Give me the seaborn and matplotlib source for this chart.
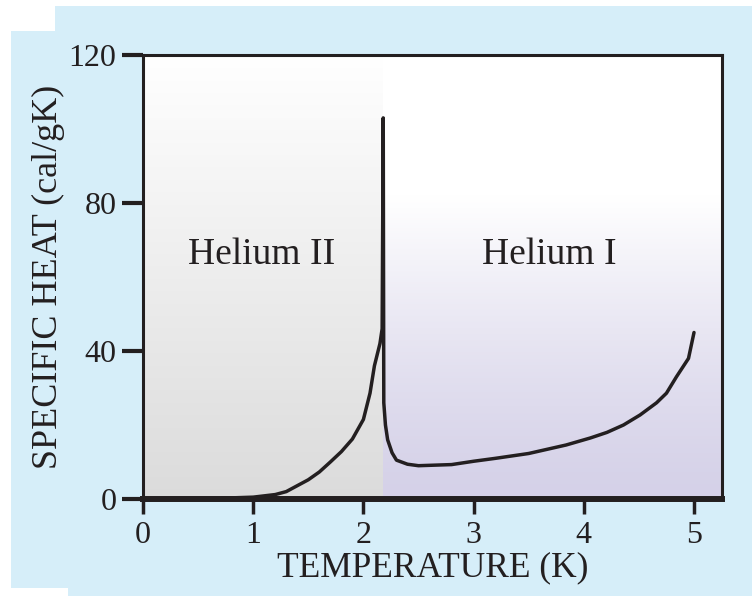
import numpy as np
import pandas as pd
import matplotlib
matplotlib.use("Agg")
import matplotlib.pyplot as plt
import seaborn as sns
from matplotlib.patches import Polygon

# 比熱データ（液体ヘリウム、λ点付近）
temperature = [0.0, 0.7, 1.0, 1.2, 1.3, 1.4, 1.5, 1.6, 1.7, 1.8, 1.9, 2.0,
               2.06, 2.1, 2.15, 2.17, 2.18, 2.185, 2.2, 2.22, 2.26, 2.3,
               2.4, 2.5, 2.8, 3.0, 3.2, 3.5, 3.84, 4.06, 4.21, 4.36, 4.51,
               4.66, 4.75, 4.84, 4.95, 5.0]
specific_heat = [0.0, 0.2, 0.5, 1.2, 2.0, 3.6, 5.2, 7.3, 10.0, 12.8, 16.2, 21.5,
                 28.6, 36.0, 42.0, 46.0, 103.0, 26.0, 20.0, 16.0, 12.5, 10.5,
                 9.4, 9.0, 9.3, 10.2, 11.0, 12.3, 14.6, 16.5, 18.0, 20.0, 22.7,
                 26.0, 28.6, 33.0, 38.0, 45.0]
lambda_point = 2.18
x_ticks = [0, 1, 2, 3, 4, 5]
y_ticks = [0, 40, 80, 120]
phase_labels = ["Helium II", "Helium I"]
phase_label_x = [1.08, 3.69]
phase_label_y = [66, 66]

INK = "#231f20"
SKY = "#d6eef9"

sns.set_theme(style="white")
plt.rcParams['font.family'] = ['Liberation Serif', 'DejaVu Serif']

fig = plt.figure(figsize=(7.52, 5.96), dpi=100)
fig.patch.set_facecolor("white")

# 背景の水色パネル（ピクセル座標）
W, H = 752, 596
pts = [(11, 31), (55, 31), (55, 6), (752, 6), (752, 596), (68, 596), (68, 588), (11, 588)]
fig.add_artist(Polygon([(x / W, 1 - y / H) for x, y in pts], closed=True,
                       transform=fig.transFigure, facecolor=SKY,
                       edgecolor="none", zorder=-5))

ax = fig.add_axes([143 / W, 1 - 499 / H, (722 - 143) / W, (499 - 55) / H])
ax.set_zorder(1)

# グラデーション背景
g = np.linspace(0, 1, 256)[:, None]
left_grad = np.ones((256, 1, 3))
left_grad[:] = (1 - g)[..., None] * np.array([0.86, 0.86, 0.86]) + g[..., None] * np.array([1.0, 1.0, 1.0])
ax.imshow(left_grad, extent=[0, lambda_point, 0, 120], origin="lower",
          aspect="auto", zorder=0, interpolation="bicubic")
t = np.clip(g / 0.68, 0, 1) ** 1.3
right_grad = np.ones((256, 1, 3))
right_grad[:] = (1 - t)[..., None] * np.array([0.835, 0.82, 0.91]) + t[..., None] * np.array([1.0, 1.0, 1.0])
ax.imshow(right_grad, extent=[lambda_point, 5.254, 0, 120], origin="lower",
          aspect="auto", zorder=0, interpolation="bicubic")

df = pd.DataFrame({"T": temperature, "C": specific_heat})
sns.lineplot(data=df, x="T", y="C", sort=False, estimator=None, ax=ax,
             color=INK, linewidth=2.5, zorder=3, clip_on=False)

for label, lx, ly in zip(phase_labels, phase_label_x, phase_label_y):
    ax.text(lx, ly, label, ha="center", va="center", fontsize=27, color=INK)

ax.set_xlim(0, 5.254)
ax.set_ylim(0, 120)
ax.set_xticks(x_ticks)
ax.set_yticks(y_ticks)
ax.set_xticklabels([str(v) for v in x_ticks])
ax.set_yticklabels([str(v) for v in y_ticks])
ax.tick_params(axis="x", direction="out", length=11, width=2.5, color=INK,
               labelsize=23, labelcolor=INK, pad=5, bottom=True)
ax.tick_params(axis="y", direction="out", length=15, width=3.0, color=INK,
               labelsize=23, labelcolor=INK, pad=4, left=True)

for side in ["left", "right", "top"]:
    ax.spines[side].set_color(INK)
    ax.spines[side].set_linewidth(2.2)
ax.spines["bottom"].set_color(INK)
ax.spines["bottom"].set_linewidth(4.3)

ax.set_xlabel("TEMPERATURE (K)", fontsize=25.5, color=INK, labelpad=1)
ax.set_ylabel("SPECIFIC HEAT (cal/gK)", fontsize=26, color=INK, labelpad=3)
ax.grid(False)

plt.savefig("out.png", dpi=100, facecolor=fig.get_facecolor())
plt.close()
